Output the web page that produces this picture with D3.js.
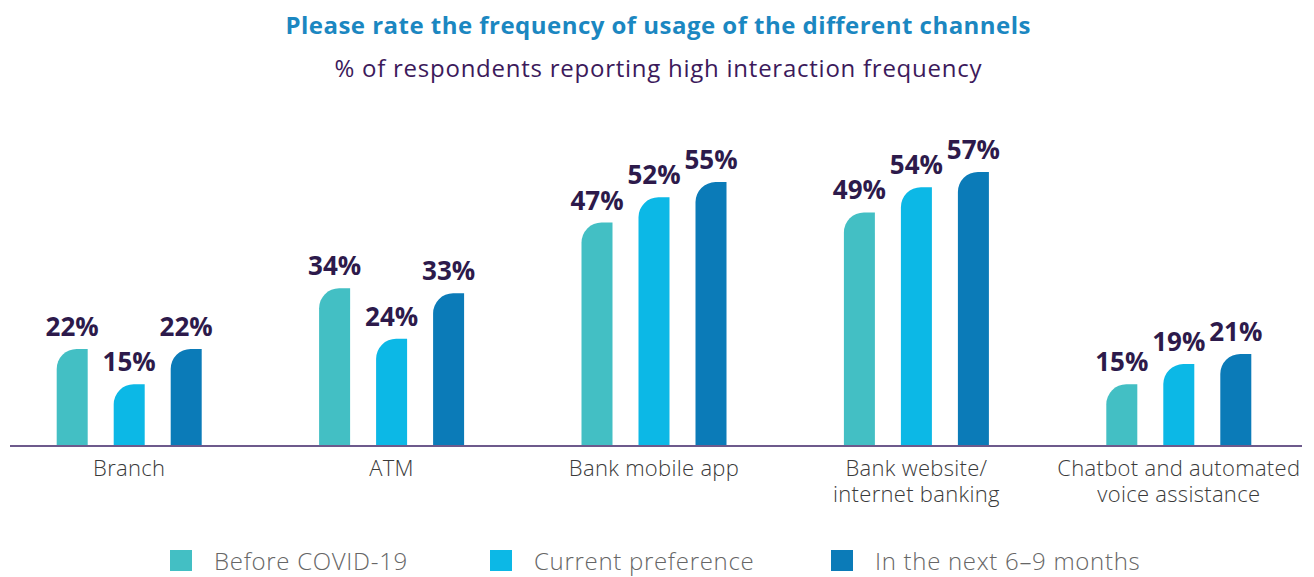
<!DOCTYPE html>
<html lang="en">
<head>
<meta charset="utf-8">
<title>Frequency of usage of the different channels</title>
<style>
  body { margin: 0; padding: 0; background: #fff; font-family: "Open Sans", sans-serif; }
  svg text { font-family: "Open Sans", sans-serif; }
</style>
</head>
<body>
<div id="chart"></div>
<script src="https://cdnjs.cloudflare.com/ajax/libs/d3/7.8.5/d3.min.js"></script>
<script>
  // chart data
  const categories = [["Branch"], ["ATM"], ["Bank mobile app"], ["Bank website/", "internet banking"], ["Chatbot and automated", "voice assistance"]];
  const seriesNames = ["Before COVID-19", "Current preference", "In the next 6\u20139 months"];
  const beforeCovid = [22, 34, 47, 49, 15];
  const currentPref = [15, 24, 52, 54, 19];
  const nextMonths = [22, 33, 55, 57, 21];
  const colors = ["#43bfc4", "#0cb8e6", "#0b7bb8"];

  const width = 1314, height = 577;
  const baseY = 445;

  const svg = d3.select("#chart").append("svg")
    .attr("width", width)
    .attr("height", height);

  // titles
  svg.append("text")
    .attr("x", 658).attr("y", 34)
    .attr("text-anchor", "middle")
    .attr("font-size", 24).attr("font-weight", 700)
    .attr("fill", "#1b87c1")
    .attr("textLength", 745).attr("lengthAdjust", "spacing")
    .text("Please rate the frequency of usage of the different channels");

  svg.append("text")
    .attr("x", 658).attr("y", 77)
    .attr("text-anchor", "middle")
    .attr("font-size", 24)
    .attr("fill", "#3c1a5b")
    .attr("textLength", 647).attr("lengthAdjust", "spacing")
    .text("% of respondents reporting high interaction frequency");

  // scales
  const x = d3.scaleBand()
    .domain(d3.range(categories.length))
    .range([-2, 1310]);

  const y = d3.scaleLinear()
    .domain([3, 57])
    .range([baseY, 172]);

  const series = [beforeCovid, currentPref, nextMonths];
  const bw = 31, r = 20;

  function barPath(x0, top) {
    const rr = Math.min(r, baseY - top);
    return `M${x0},${baseY} L${x0},${top + rr} A${rr},${rr} 0 0 1 ${x0 + rr},${top} L${x0 + bw},${top} L${x0 + bw},${baseY} Z`;
  }

  const groups = svg.selectAll("g.grp")
    .data(categories)
    .enter().append("g")
    .attr("class", "grp")
    .attr("transform", (d, i) => `translate(${x(i) + x.bandwidth() / 2},0)`);

  groups.each(function (cat, i) {
    const g = d3.select(this);
    series.forEach((vals, s) => {
      const cx = s * 57 - 57;
      const top = y(vals[i]);
      g.append("path")
        .attr("d", barPath(cx - bw / 2, top))
        .attr("fill", colors[s]);
      g.append("text")
        .attr("x", cx)
        .attr("y", top - 13)
        .attr("text-anchor", "middle")
        .attr("font-size", 26).attr("font-weight", 700)
        .attr("fill", "#2d1a4b")
        .text(vals[i] + "%");
    });

    // category label, one text per line
    cat.forEach((line, k) => {
      g.append("text")
        .attr("x", 0)
        .attr("y", 476 + k * 26)
        .attr("text-anchor", "middle")
        .attr("font-size", 22)
        .attr("font-weight", 300)
        .attr("letter-spacing", 0.3)
        .attr("fill", "#3a3a3a")
        .text(line);
    });
  });

  // baseline
  svg.append("line")
    .attr("x1", 10).attr("x2", 1302)
    .attr("y1", baseY + 1).attr("y2", baseY + 1)
    .attr("stroke", "#6d5a8c")
    .attr("stroke-width", 2);

  // legend
  const legendX = [170, 490, 831];
  const legend = svg.selectAll("g.leg")
    .data(seriesNames)
    .enter().append("g")
    .attr("class", "leg")
    .attr("transform", (d, i) => `translate(${legendX[i]},550)`);

  legend.append("rect")
    .attr("width", 22).attr("height", 21)
    .attr("fill", (d, i) => colors[i]);

  legend.append("text")
    .attr("x", 44).attr("y", 20)
    .attr("font-size", 24)
    .attr("font-weight", 300)
    .attr("letter-spacing", 0.7)
    .attr("fill", "#666")
    .text(d => d);
</script>
</body>
</html>
